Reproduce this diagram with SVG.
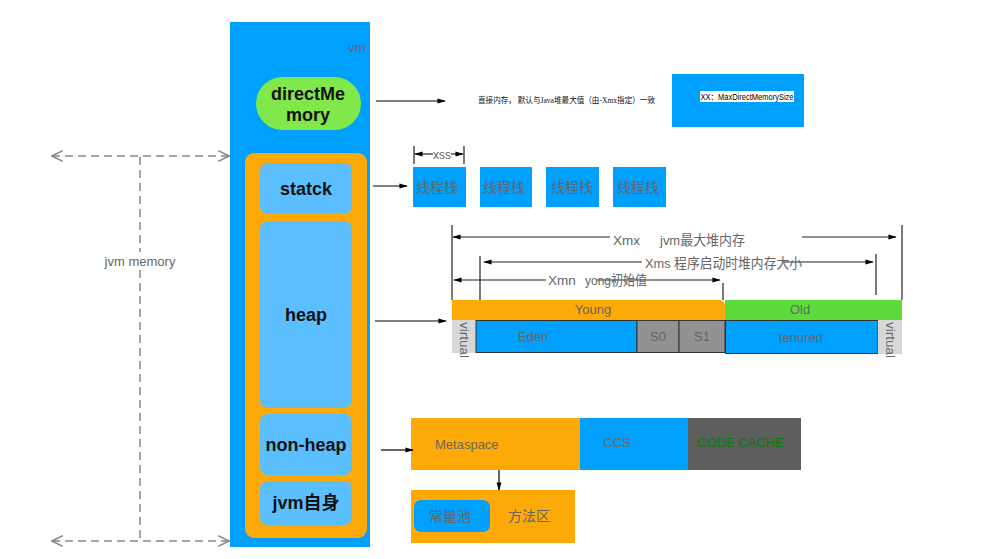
<svg xmlns="http://www.w3.org/2000/svg" width="983" height="559" viewBox="0 0 983 559">
<defs>
<marker id="ah" viewBox="0 0 10 10" refX="9" refY="5" markerWidth="7" markerHeight="7" orient="auto-start-reverse"><path d="M0,2 L10,5 L0,8 z" fill="#000"/></marker>
<marker id="oh" viewBox="0 0 10 10" refX="9" refY="5" markerWidth="9" markerHeight="9" orient="auto-start-reverse"><path d="M1,1 L9,5 L1,9" fill="none" stroke="#888" stroke-width="1.2"/></marker>
</defs>
<style>
text{font-family:"Liberation Sans","Noto Sans CJK SC",sans-serif}
.g{fill:#666}
.lbl{font-size:18px;font-weight:bold;fill:#111;text-anchor:middle}
.inner{fill:#5BBFFF}
.blue{fill:#00A0FF}
.ln{stroke:#000;stroke-width:1.2;fill:none}
.dim{stroke:#222;stroke-width:1.2;fill:none}
.dash{stroke:#888;stroke-width:1.5;stroke-dasharray:8,5;fill:none}
</style>
<g id="vm">
<rect x="230" y="22" width="140" height="525" class="blue"/>
<text x="357" y="52" class="g" font-size="13" text-anchor="middle">vm</text>
</g>
<g id="directMemory">
<rect x="256" y="77" width="105" height="53" rx="26.5" fill="#80E84B"/>
<text x="308" y="100" class="lbl">directMe</text>
<text x="308" y="121" class="lbl">mory</text>
</g>
<g id="jvm-area">
<rect x="245" y="153" width="122" height="385" rx="9" fill="#FDAA08"/>
</g>
<g id="statck">
<rect x="260" y="163" width="92" height="51" rx="8" class="inner"/>
<text x="306" y="195" class="lbl">statck</text>
</g>
<g id="heap">
<rect x="260" y="221" width="92" height="187" rx="8" class="inner"/>
<text x="306" y="321" class="lbl">heap</text>
</g>
<g id="non-heap">
<rect x="260" y="414" width="92" height="61" rx="8" class="inner"/>
<text x="306" y="451" class="lbl">non-heap</text>
</g>
<g id="jvm-self">
<rect x="260" y="481" width="92" height="44" rx="8" class="inner"/>
<text x="306" y="509" class="lbl">jvm自身</text>
</g>
<g id="direct-desc">
<text x="478" y="103" font-size="8.5" fill="#111" textLength="177" lengthAdjust="spacingAndGlyphs" style="font-family:'Liberation Serif','Noto Sans CJK SC',serif">直接内存， 默认与Java堆最大值（由-Xmx指定）一致</text>
</g>
<g id="max-direct">
<rect x="672" y="74" width="132" height="53" class="blue"/>
<rect x="700" y="91" width="94" height="11" fill="#fff"/>
<text x="700.5" y="99.5" font-size="8.5" fill="#000" textLength="93" lengthAdjust="spacingAndGlyphs">XX：MaxDirectMemorySize</text>
</g>
<g id="thread-stacks">
<rect x="413" y="167" width="53" height="40" class="blue"/>
<text x="437" y="192" class="g" font-size="14" text-anchor="middle">线程栈</text>
<rect x="480" y="167" width="52" height="40" class="blue"/>
<text x="504" y="192" class="g" font-size="14" text-anchor="middle">线程栈</text>
<rect x="546" y="167" width="53" height="40" class="blue"/>
<text x="572" y="192" class="g" font-size="14" text-anchor="middle">线程栈</text>
<rect x="613" y="167" width="53" height="40" class="blue"/>
<text x="638" y="192" class="g" font-size="14" text-anchor="middle">线程栈</text>
</g>
<g id="xss">
<line x1="414" y1="146" x2="414" y2="164" class="dim"/>
<line x1="464" y1="146" x2="464" y2="164" class="dim"/>
<line x1="415" y1="154" x2="433" y2="154" class="dim" marker-start="url(#ah)"/>
<line x1="451" y1="154" x2="463" y2="154" class="dim" marker-end="url(#ah)"/>
<text x="442" y="159" class="g" font-size="12" text-anchor="middle">xss</text>
</g>
<g id="heap-dims">
<line x1="452" y1="225" x2="452" y2="300" class="dim"/>
<line x1="902" y1="225" x2="902" y2="300" class="dim"/>
<line x1="453" y1="237" x2="610" y2="237" class="dim" marker-start="url(#ah)"/>
<line x1="802" y1="237" x2="896" y2="237" class="dim" marker-end="url(#ah)"/>
<text x="613" y="245" class="g" font-size="13.5">Xmx</text>
<text x="660" y="245" class="g" font-size="13.5" textLength="85" lengthAdjust="spacingAndGlyphs">jvm最大堆内存</text>
<line x1="480" y1="256" x2="480" y2="330" class="dim"/>
<line x1="876" y1="254" x2="876" y2="295" class="dim"/>
<line x1="484" y1="262" x2="642" y2="262" class="dim" marker-start="url(#ah)"/>
<line x1="784" y1="262" x2="873" y2="262" class="dim" marker-end="url(#ah)"/>
<text x="645" y="268" class="g" font-size="13.5" textLength="157" lengthAdjust="spacingAndGlyphs">Xms 程序启动时堆内存大小</text>
<line x1="454" y1="280" x2="546" y2="280" class="dim" marker-start="url(#ah)"/>
<line x1="596" y1="280" x2="720" y2="280" class="dim" marker-end="url(#ah)"/>
<text x="548" y="285" class="g" font-size="13.5">Xmn</text>
<text x="585" y="285" class="g" font-size="13.5" textLength="62" lengthAdjust="spacingAndGlyphs">yong初始值</text>
<line x1="723" y1="283" x2="723" y2="300" class="dim"/>
</g>
<g id="young">
<path d="M452,300 H719 Q725,300 725,306 V320 H452 Z" fill="#FDAA08"/>
<text x="593" y="314" class="g" font-size="13" text-anchor="middle">Young</text>
</g>
<g id="old">
<rect x="725" y="300" width="177" height="20" fill="#5CDB3A"/>
<text x="800" y="314" class="g" font-size="13" text-anchor="middle">Old</text>
</g>
<g id="heap-cells">
<rect x="452" y="320" width="24" height="33" fill="#D8D8D8"/>
<text transform="translate(460,322) rotate(90)" class="g" font-size="13.5">virtual</text>
<rect x="476" y="320.5" width="161" height="32" fill="#00A0FF" stroke="#333" stroke-width="1"/>
<text x="533" y="341" class="g" font-size="13" text-anchor="middle">Eden</text>
<rect x="637" y="320.5" width="42" height="32" fill="#929292" stroke="#333" stroke-width="1"/>
<text x="658" y="341" class="g" font-size="13" text-anchor="middle">S0</text>
<rect x="679" y="320.5" width="46" height="32" fill="#929292" stroke="#333" stroke-width="1"/>
<text x="702" y="341" class="g" font-size="13" text-anchor="middle">S1</text>
<rect x="725.5" y="320.5" width="152.5" height="33" fill="#00A0FF" stroke="#333" stroke-width="1"/>
<text x="801" y="342" class="g" font-size="13" text-anchor="middle">tenured</text>
<rect x="878" y="320" width="24" height="34" fill="#D8D8D8"/>
<text transform="translate(886,322) rotate(90)" class="g" font-size="13.5">virtual</text>
</g>
<g id="metaspace">
<rect x="411" y="418" width="169" height="52" fill="#FDAA08"/>
<text x="435" y="449" class="g" font-size="13">Metaspace</text>
</g>
<g id="ccs">
<rect x="580" y="418" width="108" height="52" fill="#00A0FF"/>
<text x="617" y="447" class="g" font-size="13" text-anchor="middle">CCS</text>
</g>
<g id="code-cache">
<rect x="688" y="418" width="113" height="52" fill="#5E5E5E"/>
<text x="697" y="447" font-size="13" fill="#0A7A0A">CODE CACHE</text>
</g>
<g id="method-area">
<rect x="411" y="490" width="164" height="53" fill="#FDAA08"/>
<rect x="414" y="500" width="76" height="32" rx="7" fill="#00A0FF"/>
<text x="450" y="521" class="g" font-size="14" text-anchor="middle">常量池</text>
<text x="529" y="521" class="g" font-size="14" text-anchor="middle">方法区</text>
</g>
<g id="jvm-memory">
<line x1="52" y1="156" x2="229" y2="156" class="dash" marker-start="url(#oh)" marker-end="url(#oh)"/>
<line x1="52" y1="541" x2="229" y2="541" class="dash" marker-start="url(#oh)" marker-end="url(#oh)"/>
<line x1="140" y1="157" x2="140" y2="252" class="dash"/>
<line x1="140" y1="270" x2="140" y2="540" class="dash"/>
<text x="140" y="266" class="g" font-size="13" text-anchor="middle">jvm memory</text>
</g>
<g id="connectors">
<line x1="376" y1="101" x2="445" y2="101" class="ln" marker-end="url(#ah)"/>
<line x1="373" y1="186" x2="407" y2="186" class="ln" marker-end="url(#ah)"/>
<line x1="375" y1="321" x2="446" y2="321" class="ln" marker-end="url(#ah)"/>
<line x1="381" y1="450" x2="413" y2="450" class="ln" marker-end="url(#ah)"/>
<line x1="499" y1="470" x2="499" y2="490" class="ln" marker-end="url(#ah)"/>
</g>
</svg>
